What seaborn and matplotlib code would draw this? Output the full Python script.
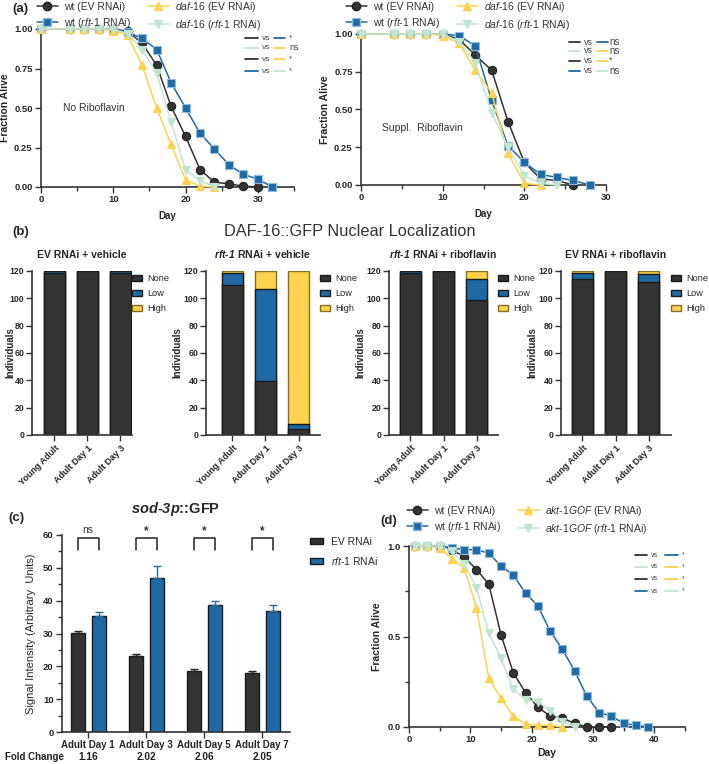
import numpy as np
import pandas as pd
import matplotlib
matplotlib.use("Agg")
import matplotlib.pyplot as plt
import seaborn as sns
from matplotlib.lines import Line2D
from matplotlib.patches import Patch
from matplotlib.ticker import MultipleLocator, FormatStrFormatter

# ---------------- data ----------------
# (a) lifespan, no riboflavin
a1_wt_ev_days = [0, 4, 6, 8, 10, 12, 14, 16, 18, 20, 22, 24, 26, 28, 30]
a1_wt_ev = [1, 1, 1, 1, 1, 0.985, 0.91, 0.77, 0.51, 0.32, 0.11, 0.03, 0.02, 0.005, 0.0]
a1_wt_rft_days = [0, 4, 6, 8, 10, 12, 14, 16, 18, 20, 22, 24, 26, 28, 30, 32]
a1_wt_rft = [1, 1, 1, 1, 1, 0.98, 0.94, 0.87, 0.66, 0.50, 0.34, 0.24, 0.14, 0.08, 0.05, 0.0]
a1_daf_ev_days = [0, 4, 6, 8, 10, 12, 14, 16, 18, 20, 22, 24]
a1_daf_ev = [1, 1, 1, 1, 0.99, 0.96, 0.77, 0.50, 0.27, 0.045, 0.005, 0.0]
a1_daf_rft_days = [0, 4, 6, 8, 10, 12, 14, 16, 18, 20, 22, 24]
a1_daf_rft = [1, 1, 1, 1, 1, 0.97, 0.87, 0.72, 0.41, 0.11, 0.04, 0.0]

# (a) lifespan, supplemented riboflavin
a2_wt_ev_days = [0, 4, 6, 8, 10, 12, 14, 16, 18, 20, 22, 24, 26]
a2_wt_ev = [1, 1, 1, 1, 1, 0.965, 0.86, 0.76, 0.42, 0.15, 0.04, 0.03, 0.0]
a2_wt_rft_days = [0, 4, 6, 8, 10, 12, 14, 16, 18, 20, 22, 24, 26, 28]
a2_wt_rft = [1, 1, 1, 1, 1, 0.99, 0.92, 0.56, 0.26, 0.15, 0.07, 0.05, 0.03, 0.0]
a2_daf_ev_days = [0, 4, 6, 8, 10, 12, 14, 16, 18, 20, 22]
a2_daf_ev = [1, 1, 1, 1, 0.99, 0.94, 0.76, 0.61, 0.21, 0.01, 0.0]
a2_daf_rft_days = [0, 4, 6, 8, 10, 12, 14, 16, 18, 20, 22, 24]
a2_daf_rft = [1, 1, 1, 1, 1, 0.95, 0.81, 0.48, 0.25, 0.06, 0.01, 0.0]

# (a) log-rank summaries
a1_sig = ["*", "ns", "*", "*"]
a2_sig = ["ns", "ns", "*", "ns"]

# (b) DAF-16::GFP localisation counts
stages = ["Young Adult", "Adult Day 1", "Adult Day 3"]
b_titles = [r"EV RNAi + vehicle", r"$\mathbfit{rft}$-$\mathbfit{1}$ RNAi + vehicle",
            r"$\mathbfit{rft}$-$\mathbfit{1}$ RNAi + riboflavin", r"EV RNAi + riboflavin"]
b_none = [[118.5, 120, 118.5], [110, 39.5, 4.5], [118.5, 120, 98.5], [114, 120, 112.2]]
b_low = [[1.5, 0, 1.5], [8.5, 67, 3.5], [1.5, 0, 15.5], [4.8, 0, 5.4]]
b_high = [[0, 0, 0], [1.5, 13.5, 112], [0, 0, 6], [1.2, 0, 2.4]]

# (c) sod-3p::GFP
c_days = ["Adult Day 1", "Adult Day 3", "Adult Day 5", "Adult Day 7"]
c_ev_mean = [30.3, 23.2, 18.6, 17.9]
c_ev_sem = [0.6, 0.6, 0.6, 0.6]
c_rft_mean = [35.2, 47.0, 38.6, 37.0]
c_rft_sem = [1.3, 3.5, 1.4, 1.8]
c_fold = ["1.16", "2.02", "2.06", "2.05"]
c_sig = ["ns", "*", "*", "*"]

# (d) lifespan with akt-1 gain of function
d_wt_ev_days = [1, 3, 5, 7, 9, 11, 13, 15, 17, 19, 21, 23, 25, 27, 29, 31, 33]
d_wt_ev = [1, 1, 1, 0.98, 0.94, 0.87, 0.79, 0.51, 0.30, 0.19, 0.11, 0.06, 0.05, 0.02, 0.0, 0.0, 0.0]
d_wt_rft_days = [1, 3, 5, 7, 9, 11, 13, 15, 17, 19, 21, 23, 25, 27, 29, 31, 33, 35, 37, 39]
d_wt_rft = [1, 1, 1, 0.99, 0.98, 0.98, 0.96, 0.89, 0.84, 0.74, 0.67, 0.53, 0.43, 0.31, 0.17,
            0.08, 0.06, 0.02, 0.01, 0.0]
d_akt_ev_days = [1, 3, 5, 7, 9, 11, 13, 15, 17, 19, 21, 23, 25]
d_akt_ev = [1, 1, 0.99, 0.93, 0.88, 0.66, 0.27, 0.16, 0.06, 0.015, 0.01, 0.01, 0.0]
d_akt_rft_days = [1, 3, 5, 7, 9, 11, 13, 15, 17, 19, 21, 23, 25, 27]
d_akt_rft = [1, 1, 1, 0.97, 0.90, 0.77, 0.52, 0.38, 0.21, 0.15, 0.14, 0.09, 0.03, 0.0]
d_sig = ["*", "*", "*", "*"]

# ---------------- style ----------------
BLACK = "#333333"
BLUE = "#1f6aa5"
YELLOW = "#fdd24f"
MINT = "#c3e5cf"

sns.set_theme(style="ticks")
plt.rcParams["font.family"] = ["Liberation Sans", "DejaVu Sans"]
plt.rcParams["mathtext.fontset"] = "custom"
plt.rcParams["mathtext.rm"] = "Liberation Sans"
plt.rcParams["mathtext.it"] = "Liberation Sans:italic"
plt.rcParams["mathtext.bf"] = "Liberation Sans:bold"
plt.rcParams["mathtext.bfit"] = "Liberation Sans:italic:bold"

W, H = 709, 764
fig = plt.figure(figsize=(W / 100, H / 100), dpi=100)


def add_ax(x0, y0, x1, y1):
    # pixel box -> figure fraction
    return fig.add_axes([x0 / W, 1 - y1 / H, (x1 - x0) / W, (y1 - y0) / H])


def style(ax, fs=6.8):
    sns.despine(ax=ax)
    for s in ["left", "bottom"]:
        ax.spines[s].set_linewidth(1.2)
        ax.spines[s].set_color(BLACK)
    ax.tick_params(which="both", direction="out", width=1, color=BLACK,
                   labelsize=fs, pad=2)
    ax.tick_params(which="major", length=4)
    ax.tick_params(which="minor", length=3)
    for lab in ax.get_xticklabels() + ax.get_yticklabels():
        lab.set_fontweight("bold")


series_style = [
    # color, marker, edge
    (BLACK, "o", "#222222"),
    (BLUE, "s", "#8fbbe0"),
    (YELLOW, "^", YELLOW),
    (MINT, "v", MINT),
]


def survival(ax, data, ms=6):
    order = [2, 3, 0, 1]
    for i in order:
        days, vals = data[i]
        c, m, e = series_style[i]
        sns.lineplot(x=days, y=vals, ax=ax, color=c, marker=m, markersize=ms,
                     markeredgecolor=e, markeredgewidth=0.8, linewidth=1.1, clip_on=False,
                     zorder=3 + i)


def sig_box(ax, rows, xs, ys, vs_fs=5.5, sym_fs=6):
    pairs = [(BLACK, BLUE), (MINT, YELLOW), (BLACK, YELLOW), (BLUE, MINT)]
    for (c1, c2), y, sym in zip(pairs, ys, rows):
        ax.plot(xs[0:2], [y, y], color=c1, lw=1.3, transform=ax.transAxes, clip_on=False)
        ax.text(xs[2], y, "vs", fontsize=vs_fs, va="center", ha="center", transform=ax.transAxes,
                color="#444444")
        ax.plot(xs[3:5], [y, y], color=c2, lw=1.3, transform=ax.transAxes, clip_on=False)
        ax.text(xs[5], y, sym, fontsize=sym_fs if sym == "ns" else vs_fs, va="center", ha="left",
                transform=ax.transAxes, color="#444444")


def surv_legend(ax, labels, x, y, colsp):
    handles = []
    for (c, m, e), lab in zip(series_style, labels):
        handles.append(Line2D([], [], color=c, marker=m, markersize=6, markeredgecolor=e,
                              lw=1.1, label=lab))
    leg = fig.legend(handles=handles, ncol=2, loc="upper left", bbox_to_anchor=(x / W, 1 - y / H),
                     frameon=False, fontsize=7.5, handlelength=2.0, handletextpad=0.6,
                     columnspacing=colsp, labelspacing=0.35, borderpad=0, borderaxespad=0)
    for t in leg.get_texts():
        t.set_color("#333333")


wt_labels = ["wt (EV RNAi)", r"wt ($\it{rft}$-$\it{1}$ RNAi)"]
daf_labels = [r"$\it{daf}$-$\it{16}$ (EV RNAi)", r"$\it{daf}$-$\it{16}$ ($\it{rft}$-$\it{1}$ RNAi)"]
akt_labels = [r"$\it{akt}$-$\it{1GOF}$ (EV RNAi)", r"$\it{akt}$-$\it{1GOF}$ ($\it{rft}$-$\it{1}$ RNAi)"]

# ---------------- (a) left ----------------
ax = add_ax(41, 29, 294, 187)
survival(ax, [(a1_wt_ev_days, a1_wt_ev), (a1_wt_rft_days, a1_wt_rft),
              (a1_daf_ev_days, a1_daf_ev), (a1_daf_rft_days, a1_daf_rft)])
ax.set_xlim(0, 35)
ax.set_ylim(0, 1.0)
ax.xaxis.set_major_locator(MultipleLocator(10))
ax.xaxis.set_minor_locator(MultipleLocator(5))
ax.yaxis.set_major_locator(MultipleLocator(0.25))
ax.yaxis.set_major_formatter(FormatStrFormatter("%.2f"))
style(ax)
ax.set_xlabel("Day", fontsize=7, fontweight="bold", labelpad=5)
ax.set_ylabel("Fraction Alive", fontsize=7.5, fontweight="bold", labelpad=3)
ax.text(0.087, 0.5, "No Riboflavin", transform=ax.transAxes, fontsize=7.5, va="center",
        color="#333333")
sig_box(ax, a1_sig, [0.806, 0.858, 0.889, 0.921, 0.964, 0.98], [0.943, 0.88, 0.81, 0.734],
        vs_fs=6, sym_fs=6.5)
surv_legend(ax, wt_labels + daf_labels, 37, 0, 1.6)

# ---------------- (a) right ----------------
ax = add_ax(361, 34, 606, 185)
survival(ax, [(a2_wt_ev_days, a2_wt_ev), (a2_wt_rft_days, a2_wt_rft),
              (a2_daf_ev_days, a2_daf_ev), (a2_daf_rft_days, a2_daf_rft)])
ax.set_xlim(0, 30)
ax.set_ylim(0, 1.0)
ax.xaxis.set_major_locator(MultipleLocator(10))
ax.xaxis.set_minor_locator(MultipleLocator(5))
ax.yaxis.set_major_locator(MultipleLocator(0.25))
ax.yaxis.set_major_formatter(FormatStrFormatter("%.2f"))
style(ax)
ax.set_xlabel("Day", fontsize=7, fontweight="bold", labelpad=5)
ax.set_ylabel("Fraction Alive", fontsize=7.5, fontweight="bold", labelpad=3)
ax.text(0.086, 0.377, "Suppl.  Riboflavin", transform=ax.transAxes, fontsize=7.5, va="center",
        color="#333333")
sig_box(ax, a2_sig, [0.849, 0.894, 0.929, 0.963, 1.010, 1.012], [0.947, 0.89, 0.824, 0.758],
        vs_fs=6.5, sym_fs=7)
surv_legend(ax, wt_labels + daf_labels, 346, 0, 1.6)

fig.text(12 / W, 1 - 9 / H, "(a)", fontsize=9.5, fontweight="bold", va="center")

# ---------------- (b) ----------------
fig.text(12 / W, 1 - 232 / H, "(b)", fontsize=9.5, fontweight="bold", va="center")
fig.text(350 / W, 1 - 232 / H, "DAF-16::GFP Nuclear Localization", fontsize=11.8,
         ha="center", va="center", color="#333333")

b_boxes = [(32, 132, -0.68, 2.35), (206, 320, -0.8, 2.65), (389, 498, -0.65, 2.65),
           (561, 671, -0.65, 2.68)]
for k, (x0, x1, xl, xr) in enumerate(b_boxes):
    ax = add_ax(x0, 271, x1, 435)
    df = pd.DataFrame({"stage": stages, "none": b_none[k], "low": b_low[k], "high": b_high[k]})
    df["cum_low"] = df["none"] + df["low"]
    df["cum_high"] = df["cum_low"] + df["high"]
    sns.barplot(data=df, x="stage", y="cum_high", color=YELLOW, ax=ax, width=0.64,
                edgecolor="#8a6d1c", linewidth=1, saturation=1)
    sns.barplot(data=df, x="stage", y="cum_low", color=BLUE, ax=ax, width=0.64,
                edgecolor="#1a1a1a", linewidth=1, saturation=1)
    sns.barplot(data=df, x="stage", y="none", color=BLACK, ax=ax, width=0.64,
                edgecolor="#1a1a1a", linewidth=1, saturation=1)
    ax.set_xlim(xl, xr)
    ax.set_ylim(0, 120)
    ax.yaxis.set_major_locator(MultipleLocator(20))
    style(ax, fs=6.3)
    ax.tick_params(axis="y", pad=1.5)
    ax.set_xticks(range(3))
    ax.set_xticklabels(stages, rotation=45, ha="right", rotation_mode="anchor",
                       fontsize=6.5, fontweight="bold")
    ax.set_xlabel("")
    ax.set_ylabel("Individuals", fontsize=7, fontweight="bold", labelpad=1)
    if k == 0:
        ax.yaxis.set_label_coords(-0.17, 0.5)
    ax.set_title(b_titles[k], fontsize=7.5, fontweight="bold", pad=9)
    handles = [Patch(facecolor=BLACK, edgecolor="#1a1a1a", label="None"),
               Patch(facecolor=BLUE, edgecolor="#1a1a1a", label="Low"),
               Patch(facecolor=YELLOW, edgecolor="#8a6d1c", label="High")]
    ax.legend(handles=handles, loc="upper left", bbox_to_anchor=(1.0, 0.98), frameon=False,
              fontsize=6.6, handlelength=1.05, handleheight=0.55, handletextpad=0.6,
              labelspacing=0.65, borderaxespad=0, borderpad=0)

# ---------------- (c) ----------------
fig.text(8 / W, 1 - 518 / H, "(c)", fontsize=9.5, fontweight="bold", va="center")
ax = add_ax(62, 535, 290, 732)
dfc = pd.DataFrame({
    "day": c_days * 2,
    "signal": c_ev_mean + c_rft_mean,
    "sem": c_ev_sem + c_rft_sem,
    "group": ["EV RNAi"] * 4 + ["rft-1 RNAi"] * 4,
})
sns.barplot(data=dfc, x="day", y="signal", hue="group", palette=[BLACK, BLUE], ax=ax,
            errorbar=None, width=0.72, gap=0.33, edgecolor="#1a1a1a", linewidth=1,
            saturation=1, legend=False)
err_cols = ["#222222", "#2a6a95"]
sems = [c_ev_sem, c_rft_sem]
centres = []
bar_groups = list(ax.containers)
for j, cont in enumerate(bar_groups):
    xs = [b.get_x() + b.get_width() / 2 for b in cont]
    hs = [b.get_height() for b in cont]
    centres.append(xs)
    ax.errorbar(xs, hs, yerr=[np.zeros(4), sems[j]], fmt="none", ecolor=err_cols[j],
                elinewidth=1, capsize=3, capthick=1)
for i in range(4):
    xa, xb = centres[0][i], centres[1][i]
    ax.plot([xa, xa, xb, xb], [55.5, 59.1, 59.1, 55.5], color="#222222", lw=1.1, clip_on=False)
    if c_sig[i] == "ns":
        ax.text((xa + xb) / 2, 60.0, "ns", ha="center", va="bottom", fontsize=7.5, color="#333333")
    else:
        ax.text((xa + xb) / 2, 59.4, "*", ha="center", va="bottom", fontsize=8.5,
                fontweight="bold", color="#333333")
ax.set_xlim(-0.45, 3.48)
ax.set_ylim(0, 60)
ax.yaxis.set_major_locator(MultipleLocator(10))
ax.yaxis.set_minor_locator(MultipleLocator(5))
style(ax)
ax.set_xticks(range(4))
ax.set_xticklabels(c_days, fontsize=7, fontweight="bold")
ax.set_xlabel("")
ax.set_ylabel("Signal Intensity (Arbitrary  Units)", fontsize=8, labelpad=5)
ax.set_title(r"$\mathbfit{sod}$-$\mathbfit{3p}$::GFP", fontsize=10.5, fontweight="bold", pad=16)
for i, f in enumerate(c_fold):
    ax.text(i, -0.127, f, transform=ax.get_xaxis_transform(), ha="center", va="center",
            fontsize=7.3, fontweight="bold", color="#222222")
fig.text(5 / W, 1 - 757 / H, "Fold Change", fontsize=7, fontweight="bold", va="center",
         color="#222222")
ax.legend(handles=[Patch(facecolor=BLACK, edgecolor="#1a1a1a", label="EV RNAi"),
                   Patch(facecolor=BLUE, edgecolor="#1a1a1a", label=r"$\it{rft}$-$\it{1}$ RNAi")],
          loc="upper left", bbox_to_anchor=(310 / W, 1 - 537 / H), bbox_transform=fig.transFigure,
          frameon=False, fontsize=7.5, handlelength=1.2, handleheight=0.55, labelspacing=0.75,
          borderaxespad=0, borderpad=0)

# ---------------- (d) ----------------
fig.text(380 / W, 1 - 521 / H, "(d)", fontsize=9.5, fontweight="bold", va="center")
ax = add_ax(409, 546, 685, 727)
survival(ax, [(d_wt_ev_days, d_wt_ev), (d_wt_rft_days, d_wt_rft),
              (d_akt_ev_days, d_akt_ev), (d_akt_rft_days, d_akt_rft)])
ax.set_xlim(0, 45)
ax.set_ylim(0, 1.0)
ax.xaxis.set_major_locator(MultipleLocator(10))
ax.xaxis.set_minor_locator(MultipleLocator(5))
ax.yaxis.set_major_locator(MultipleLocator(0.5))
ax.yaxis.set_minor_locator(MultipleLocator(0.25))
ax.yaxis.set_major_formatter(FormatStrFormatter("%.1f"))
style(ax)
ax.set_xlabel("Day", fontsize=7.5, fontweight="bold", labelpad=3)
ax.set_ylabel("Fraction Alive", fontsize=7.5, fontweight="bold", labelpad=4)
sig_box(ax, d_sig, [0.819, 0.862, 0.891, 0.928, 0.975, 0.99], [0.95, 0.884, 0.818, 0.751],
        vs_fs=5, sym_fs=5)
surv_legend(ax, wt_labels + akt_labels, 407, 504, 1.6)

fig.savefig("out.png", dpi=100)
